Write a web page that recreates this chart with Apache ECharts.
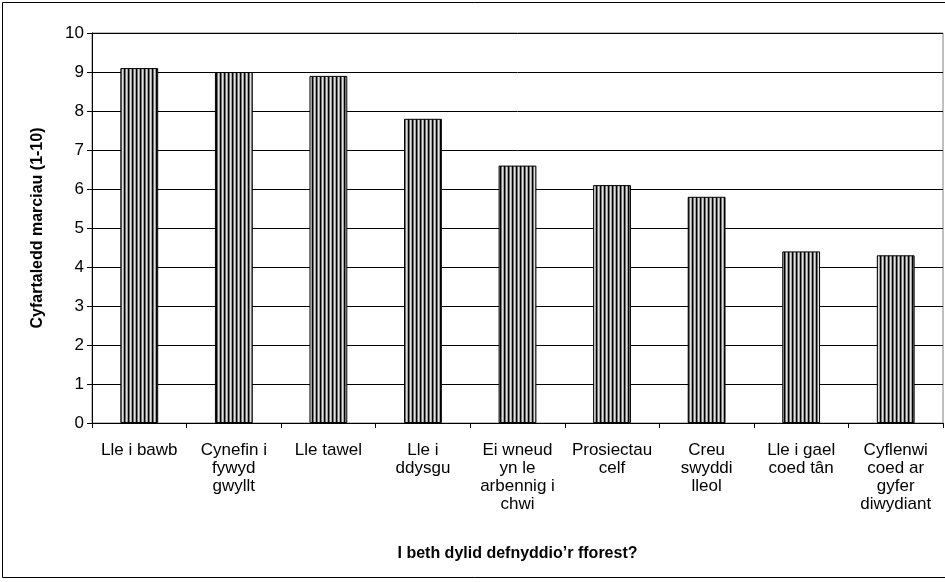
<!DOCTYPE html>
<html>
<head>
<meta charset="utf-8">
<script src="https://cdn.jsdelivr.net/npm/echarts@6/dist/echarts.min.js"></script>
<style>
html,body{margin:0;padding:0;background:#fff;}
#chart{width:945px;height:582px;}
</style>
</head>
<body>
<div id="chart"></div>
<script>
var categories = ["Lle i bawb", "Cynefin i\nfywyd\ngwyllt", "Lle tawel", "Lle i\nddysgu", "Ei wneud\nyn le\narbennig i\nchwi", "Prosiectau\ncelf", "Creu\nswyddi\nlleol", "Lle i gael\ncoed tân", "Cyflenwi\ncoed ar\ngyfer\ndiwydiant"];
var values = [9.1, 9.0, 8.9, 7.8, 6.6, 6.1, 5.8, 4.4, 4.3];
var yTitle = "Cyfartaledd marciau (1-10)";
var xTitle = "I beth dylid defnyddio’r fforest?";

var pc = document.createElement('canvas');
pc.width = 4; pc.height = 4;
var ctx = pc.getContext('2d');
var cols = ['#000000', '#707070', '#e0e0e0', '#a0a0a0'];
for (var i = 0; i < 4; i++) { ctx.fillStyle = cols[i]; ctx.fillRect(i, 0, 1, 4); }

var chart = echarts.init(document.getElementById('chart'), null, {renderer: 'canvas'});
var font = "'Liberation Sans', Arial, sans-serif";
chart.setOption({
  animation: false,
  backgroundColor: '#ffffff',
  textStyle: {fontFamily: font},
  graphic: [{
    type: 'rect', shape: {x: 2.5, y: 2.5, width: 960, height: 575},
    style: {fill: 'none', stroke: '#000', lineWidth: 1}, silent: true, z: -1
  }],
  grid: {left: 92, top: 33, right: 2, bottom: 159, show: true, borderColor: '#808080', borderWidth: 1, backgroundColor: 'transparent'},
  xAxis: {
    type: 'category',
    data: categories,
    axisLine: {lineStyle: {color: '#000', width: 1}},
    axisTick: {show: true, length: 5, lineStyle: {color: '#000'}},
    axisLabel: {color: '#000', fontSize: 17, lineHeight: 18, margin: 18, interval: 0, fontFamily: font},
    name: xTitle,
    nameLocation: 'middle',
    nameGap: 123,
    nameTextStyle: {color: '#000', fontSize: 16, fontWeight: 'bold', fontFamily: font}
  },
  yAxis: {
    type: 'value',
    min: 0, max: 10, interval: 1,
    axisLine: {show: true, lineStyle: {color: '#000', width: 1}},
    axisTick: {show: true, length: 5, lineStyle: {color: '#000'}},
    axisLabel: {color: '#000', fontSize: 17, margin: 8, fontFamily: font},
    splitLine: {show: true, lineStyle: {color: '#000', width: 1}},
    name: yTitle,
    nameLocation: 'middle',
    nameGap: 46,
    nameRotate: 90,
    nameTextStyle: {color: '#000', fontSize: 16, fontWeight: 'bold', fontFamily: font}
  },
  series: [{
    type: 'bar',
    data: values,
    barWidth: '40%',
    itemStyle: {color: {image: pc, repeat: 'repeat'}, borderColor: '#000', borderWidth: 1},
    emphasis: {disabled: true}
  }]
});
</script>
</body>
</html>
